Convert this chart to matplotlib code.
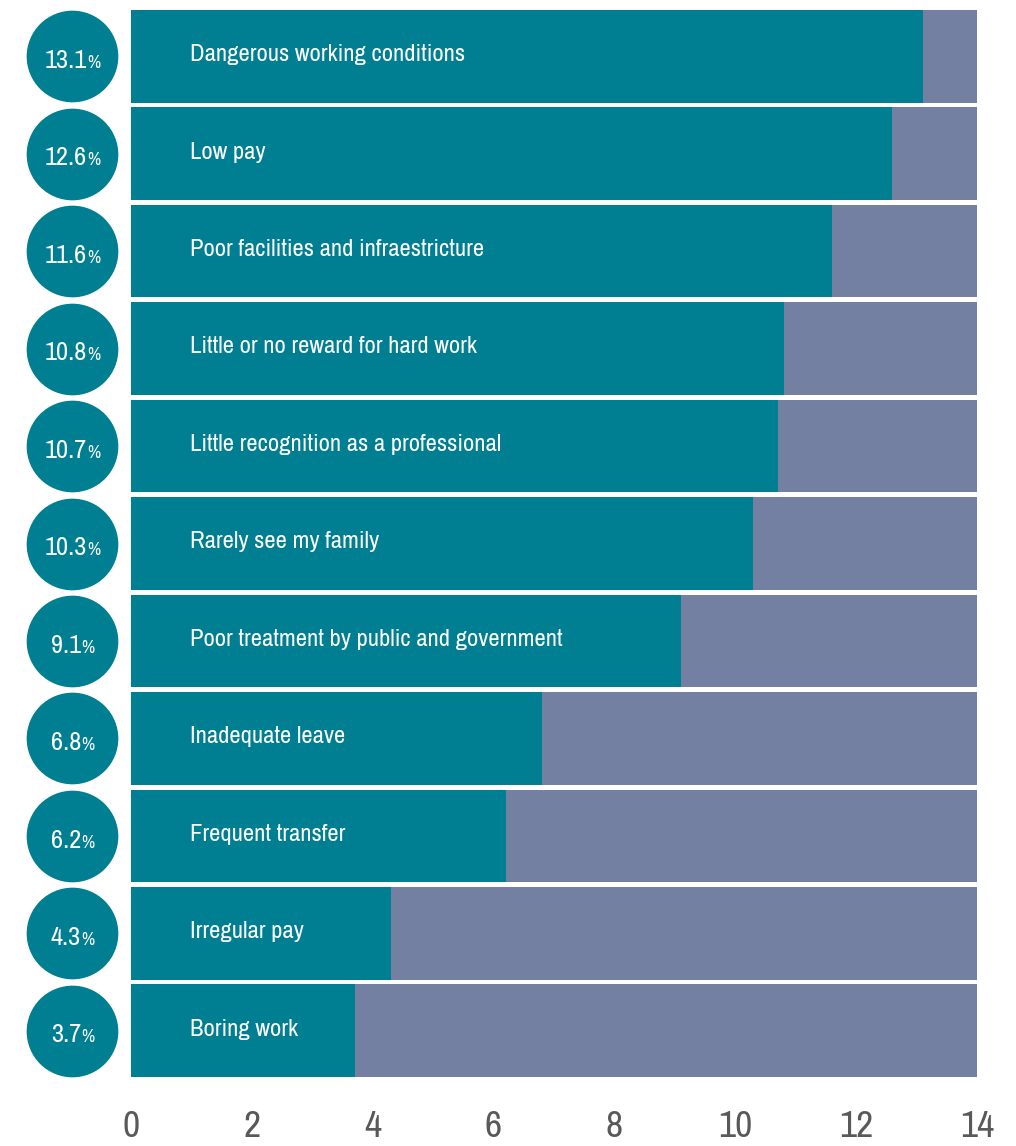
import matplotlib.pyplot as plt

reasons = ['Dangerous working conditions', 'Low pay', 'Poor facilities and infraestricture',
           'Little or no reward for hard work', 'Little recognition as a professional',
           'Rarely see my family', 'Poor treatment by public and government',
           'Inadequate leave', 'Frequent transfer', 'Irregular pay', 'Boring work']
values = [13.1, 12.6, 11.6, 10.8, 10.7, 10.3, 9.1, 6.8, 6.2, 4.3, 3.7]
xmax = 14
xticks = [0, 2, 4, 6, 8, 10, 12, 14]

teal = '#007e92'
slate = '#7380a1'

plt.rcParams['font.family'] = ['Archivo Narrow', 'Liberation Sans', 'DejaVu Sans']

fig = plt.figure(figsize=(10.16, 11.46), dpi=100)
ax = fig.add_axes([0, 1 - 1077 / 1146, 977 / 1016, 1067 / 1146])
ax.set_xlim(-131 / 60.44, xmax)
ax.set_ylim(len(values) - 1 + 0.475, -0.475)

pos = list(range(len(values)))
ax.barh(pos, [xmax] * len(values), height=0.95, color=slate, zorder=1)
ax.barh(pos, values, height=0.95, color=teal, zorder=2)

# circles with the share on the left
cx = -0.968
ax.scatter([cx] * len(values), pos, s=66 ** 2, color=teal, clip_on=False, zorder=3, linewidths=0)

pairs = []
for y, v, name in zip(pos, values, reasons):
    ax.text(0.976, y + 0.05, name, color='white', fontsize=17.8, va='baseline', ha='left', zorder=4)
    num = ax.text(cx, y + 0.12, f'{v:.1f}', color='white', fontsize=19, va='baseline', ha='left',
                  zorder=4, clip_on=False)
    pct = ax.text(cx, y + 0.12, '%', color='white', fontsize=13, va='baseline', ha='left',
                  zorder=4, clip_on=False)
    pairs.append((num, pct))

ax.set_xticks(xticks)
ax.set_yticks([])
ax.tick_params(axis='x', length=0, pad=24, labelsize=27, labelcolor='#595959')
for s in ax.spines.values():
    s.set_visible(False)

# centre number + percent sign inside each circle
fig.canvas.draw()
r = fig.canvas.get_renderer()
px_per_unit = ax.transData.transform((1, 0))[0] - ax.transData.transform((0, 0))[0]
for num, pct in pairs:
    w1 = num.get_window_extent(r).width / px_per_unit
    w2 = pct.get_window_extent(r).width / px_per_unit
    x0 = cx - (w1 + w2) / 2
    num.set_x(x0)
    pct.set_x(x0 + w1)

fig.savefig('out.png', dpi=100)
